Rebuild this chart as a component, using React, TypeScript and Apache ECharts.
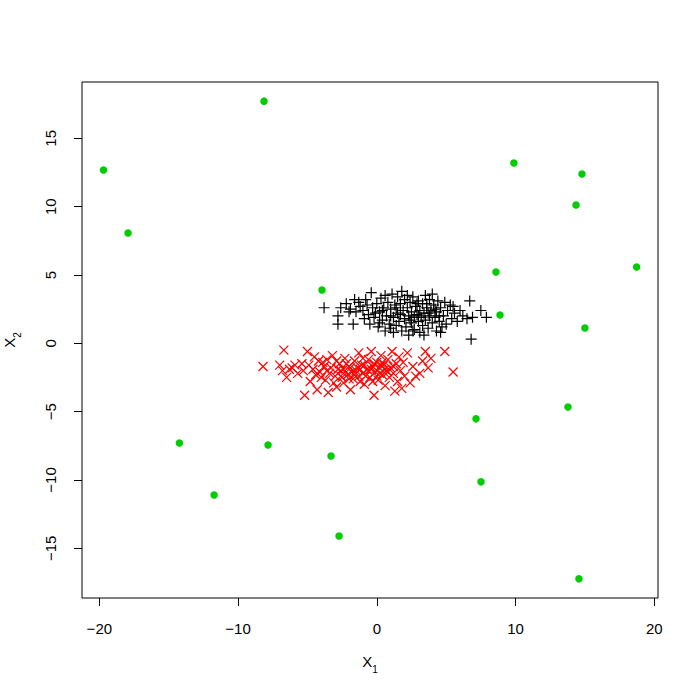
import React, { useEffect, useRef } from "react";
import * as echarts from "echarts";

const xTicks = [-20, -10, 0, 10, 20];
const yTicks = [-15, -10, -5, 0, 5, 10, 15];

const blackPoints: number[][] = [
  [-3.8, 2.6], [-2.8, 2.0], [-2.8, 1.4], [-2.6, 2.6], [-2.2, 2.9], [-1.9, 2.5], [-1.7, 1.4], [-1.5, 2.3],
  [-1.3, 3.0], [-1.2, 2.7], [-1.0, 2.4], [-0.9, 1.8], [-0.8, 3.2], [-0.6, 2.1], [-0.5, 1.4], [-0.4, 3.7],
  [-0.3, 2.6], [-0.2, 1.9], [0.0, 2.9], [0.1, 1.2], [0.2, 2.3], [0.3, 3.3], [0.4, 1.7], [0.5, 2.6],
  [0.6, 0.9], [0.7, 2.0], [0.8, 3.0], [0.9, 1.4], [1.0, 2.5], [1.1, 3.6], [1.2, 1.9], [1.2, 0.8],
  [1.3, 2.8], [1.4, 1.3], [1.5, 3.4], [1.5, 2.2], [1.6, 1.6], [1.7, 2.9], [1.8, 3.8], [1.8, 0.9],
  [1.9, 2.4], [2.0, 1.8], [2.0, 3.2], [2.1, 1.2], [2.2, 2.6], [2.3, 2.0], [2.3, 0.6], [2.4, 3.0],
  [2.5, 1.5], [2.5, 2.3], [2.6, 3.4], [2.7, 1.9], [2.7, 1.0], [2.8, 2.7], [2.9, 2.1], [3.0, 1.6],
  [3.0, 3.1], [3.1, 2.4], [3.1, 0.8], [3.2, 1.9], [3.3, 2.9], [3.3, 1.3], [3.4, 2.2], [3.5, 3.5],
  [3.5, 1.7], [3.6, 2.6], [3.7, 1.1], [3.8, 2.0], [3.8, 3.2], [3.9, 2.4], [4.0, 1.5], [4.0, 3.6],
  [4.1, 2.8], [4.2, 1.9], [4.3, 0.9], [4.3, 2.3], [4.4, 3.1], [4.5, 1.6], [4.6, 2.6], [4.6, 0.8],
  [4.8, 2.0], [4.9, 3.0], [5.0, 1.4], [5.1, 2.4], [5.3, 2.8], [5.4, 1.8], [5.6, 2.2], [5.8, 1.6],
  [6.0, 2.4], [6.2, 2.0], [6.5, 1.8], [6.7, 3.1], [6.8, 0.3], [6.9, 1.9], [7.5, 2.4], [7.9, 1.9],
  [-2.0, 2.3], [-1.6, 3.2], [-0.7, 2.8], [0.2, 1.5], [0.6, 3.5], [1.0, 1.1], [1.4, 2.6], [2.2, 3.5],
  [2.6, 0.9], [2.9, 2.9], [3.4, 0.6], [3.6, 2.9], [4.2, 2.5], [4.7, 1.2], [5.5, 2.7], [3.0, 2.0],
  [2.4, 1.7], [1.7, 2.1], [3.7, 2.2], [4.5, 2.0], [1.0, 2.0], [0.4, 2.4], [-0.1, 2.2],
];

const redPoints: number[][] = [
  [-8.2, -1.7], [-6.7, -0.5], [-7.0, -1.6], [-6.5, -2.5], [-6.8, -2.0], [-5.2, -3.8], [-6.1, -1.8], [-5.7, -2.2],
  [-5.4, -1.5], [-5.0, -0.6], [-4.8, -2.8], [-4.5, -1.0], [-4.3, -3.4], [-4.1, -2.1], [-3.9, -1.4], [-3.7, -2.7],
  [-3.5, -3.6], [-3.3, -1.8], [-3.2, -0.9], [-3.0, -2.4], [-2.9, -3.2], [-2.7, -1.5], [-2.6, -2.0], [-2.4, -2.9],
  [-2.3, -1.1], [-2.1, -2.3], [-2.0, -1.7], [-1.9, -3.4], [-1.7, -2.6], [-1.6, -1.3], [-1.5, -2.0], [-1.3, -0.7],
  [-1.2, -2.8], [-1.1, -1.6], [-1.0, -2.2], [-0.9, -3.0], [-0.7, -1.9], [-0.6, -1.2], [-0.5, -2.5], [-0.4, -0.6],
  [-0.3, -1.7], [-0.2, -3.8], [-0.1, -2.1], [0.0, -1.4], [0.1, -2.7], [0.2, -1.8], [0.3, -0.9], [0.4, -2.3],
  [0.5, -1.6], [0.6, -3.1], [0.7, -2.0], [0.8, -1.2], [0.9, -2.5], [1.0, -1.8], [1.1, -0.6], [1.2, -2.2],
  [1.3, -3.5], [1.4, -1.5], [1.5, -2.8], [1.6, -1.0], [1.7, -2.0], [1.8, -3.3], [1.9, -1.4], [2.0, -2.4],
  [2.2, -0.7], [2.4, -2.9], [2.6, -1.7], [2.8, -2.4], [3.1, -2.2], [3.3, -1.3], [3.5, -0.6], [3.7, -1.8],
  [3.9, -1.1], [4.9, -0.6], [5.5, -2.1], [-4.6, -1.9], [-4.0, -2.5], [-3.6, -1.2], [-3.1, -2.9], [-2.8, -1.9],
  [-2.5, -2.5], [-2.2, -1.5], [-1.8, -2.1], [-1.4, -1.8], [-1.0, -1.1], [-0.8, -2.4], [-0.4, -1.9], [0.0, -2.4],
  [0.4, -1.4], [0.8, -2.1], [-5.3, -2.0], [-4.9, -1.6], [-4.4, -2.3], [-3.8, -1.7], [-3.4, -2.2], [-2.9, -1.3],
  [-2.4, -1.9], [-2.0, -2.6], [-1.6, -2.3], [-1.2, -1.9], [-0.6, -2.0], [-0.2, -1.5], [0.2, -2.2], [0.6, -1.9],
  [1.2, -1.7], [-3.6, -2.0], [-2.6, -2.4], [-1.9, -1.8], [-1.3, -2.4], [-0.9, -1.6], [-0.3, -2.8], [0.3, -1.6],
  [-4.2, -1.3], [-5.9, -1.6], [-6.3, -1.9],
];

const greenPoints: number[][] = [
  [-8.13, 17.72], [-19.7, 12.68], [-17.93, 8.07], [-3.95, 3.9], [-14.23, -7.3], [-7.84, -7.44],
  [-11.73, -11.1], [-3.3, -8.25], [-2.72, -14.1], [9.88, 13.19], [14.79, 12.39], [14.36, 10.12],
  [18.73, 5.58], [8.59, 5.22], [8.88, 2.07], [15.0, 1.12], [13.78, -4.66], [7.15, -5.53],
  [7.51, -10.14], [14.57, -17.24],
];

const FONT = "Liberation Sans, Arial, Helvetica, sans-serif";
const fmt = (v: number) => String(v).replace("-", "\u2212");

export default function App() {
  const ref = useRef<HTMLDivElement>(null);
  useEffect(() => {
    if (!ref.current) return;
    const chart = echarts.init(ref.current, null, { renderer: "svg" });
    chart.setOption({
      animation: false,
      backgroundColor: "#ffffff",
      grid: {
        left: 82, right: 42, top: 82, bottom: 102,
        outerBoundsMode: "none",
        containLabel: false,
        show: true, borderColor: "#000", borderWidth: 1, backgroundColor: "transparent",
      },
      xAxis: {
        type: "value",
        min: -21.25, max: 20.27,
        axisLine: { show: false, onZero: false },
        splitLine: { show: false },
        axisTick: { show: true, customValues: xTicks, length: 8, lineStyle: { color: "#000", width: 1 } },
        axisLabel: { customValues: xTicks, formatter: fmt, margin: 23, fontSize: 15, color: "#000", fontFamily: FONT },
        name: "{x|X}{s|1}",
        nameLocation: "middle",
        nameGap: 56,
        nameTextStyle: {
          fontFamily: FONT, color: "#000",
          rich: {
            x: { fontSize: 15, lineHeight: 15, verticalAlign: "top", fontFamily: FONT, color: "#000" },
            s: { fontSize: 10, lineHeight: 30, fontFamily: FONT, color: "#000" },
          },
        },
      },
      yAxis: {
        type: "value",
        min: -18.64, max: 19.12,
        axisLine: { show: false, onZero: false },
        splitLine: { show: false },
        axisTick: { show: true, customValues: yTicks, length: 8, lineStyle: { color: "#000", width: 1 } },
        axisLabel: { customValues: yTicks, formatter: fmt, rotate: 90, margin: 24, fontSize: 15, color: "#000", fontFamily: FONT },
        name: "{x|X}{s|2}",
        nameLocation: "middle",
        nameRotate: 90,
        nameGap: 50,
        nameTextStyle: {
          fontFamily: FONT, color: "#000",
          rich: {
            x: { fontSize: 15, lineHeight: 15, verticalAlign: "top", fontFamily: FONT, color: "#000" },
            s: { fontSize: 10, lineHeight: 30, fontFamily: FONT, color: "#000" },
          },
        },
      },
      series: [
        {
          type: "scatter",
          data: blackPoints,
          symbol: "path://M-1,0L1,0M0,-1L0,1",
          symbolSize: 11,
          itemStyle: { color: "transparent", borderColor: "#000", borderWidth: 1.2, opacity: 1 },
        },
        {
          type: "scatter",
          data: redPoints,
          symbol: "path://M-1,-1L1,1M-1,1L1,-1",
          symbolSize: 9,
          itemStyle: { color: "transparent", borderColor: "#ff0000", borderWidth: 1.2, opacity: 1 },
        },
        {
          type: "scatter",
          data: greenPoints,
          symbol: "circle",
          symbolSize: 7.5,
          itemStyle: { color: "#00cd00", opacity: 1 },
        },
      ],
    });
    return () => chart.dispose();
  }, []);
  return <div ref={ref} style={{ position: "fixed", left: 0, top: 0, width: 700, height: 700 }} />;
}
